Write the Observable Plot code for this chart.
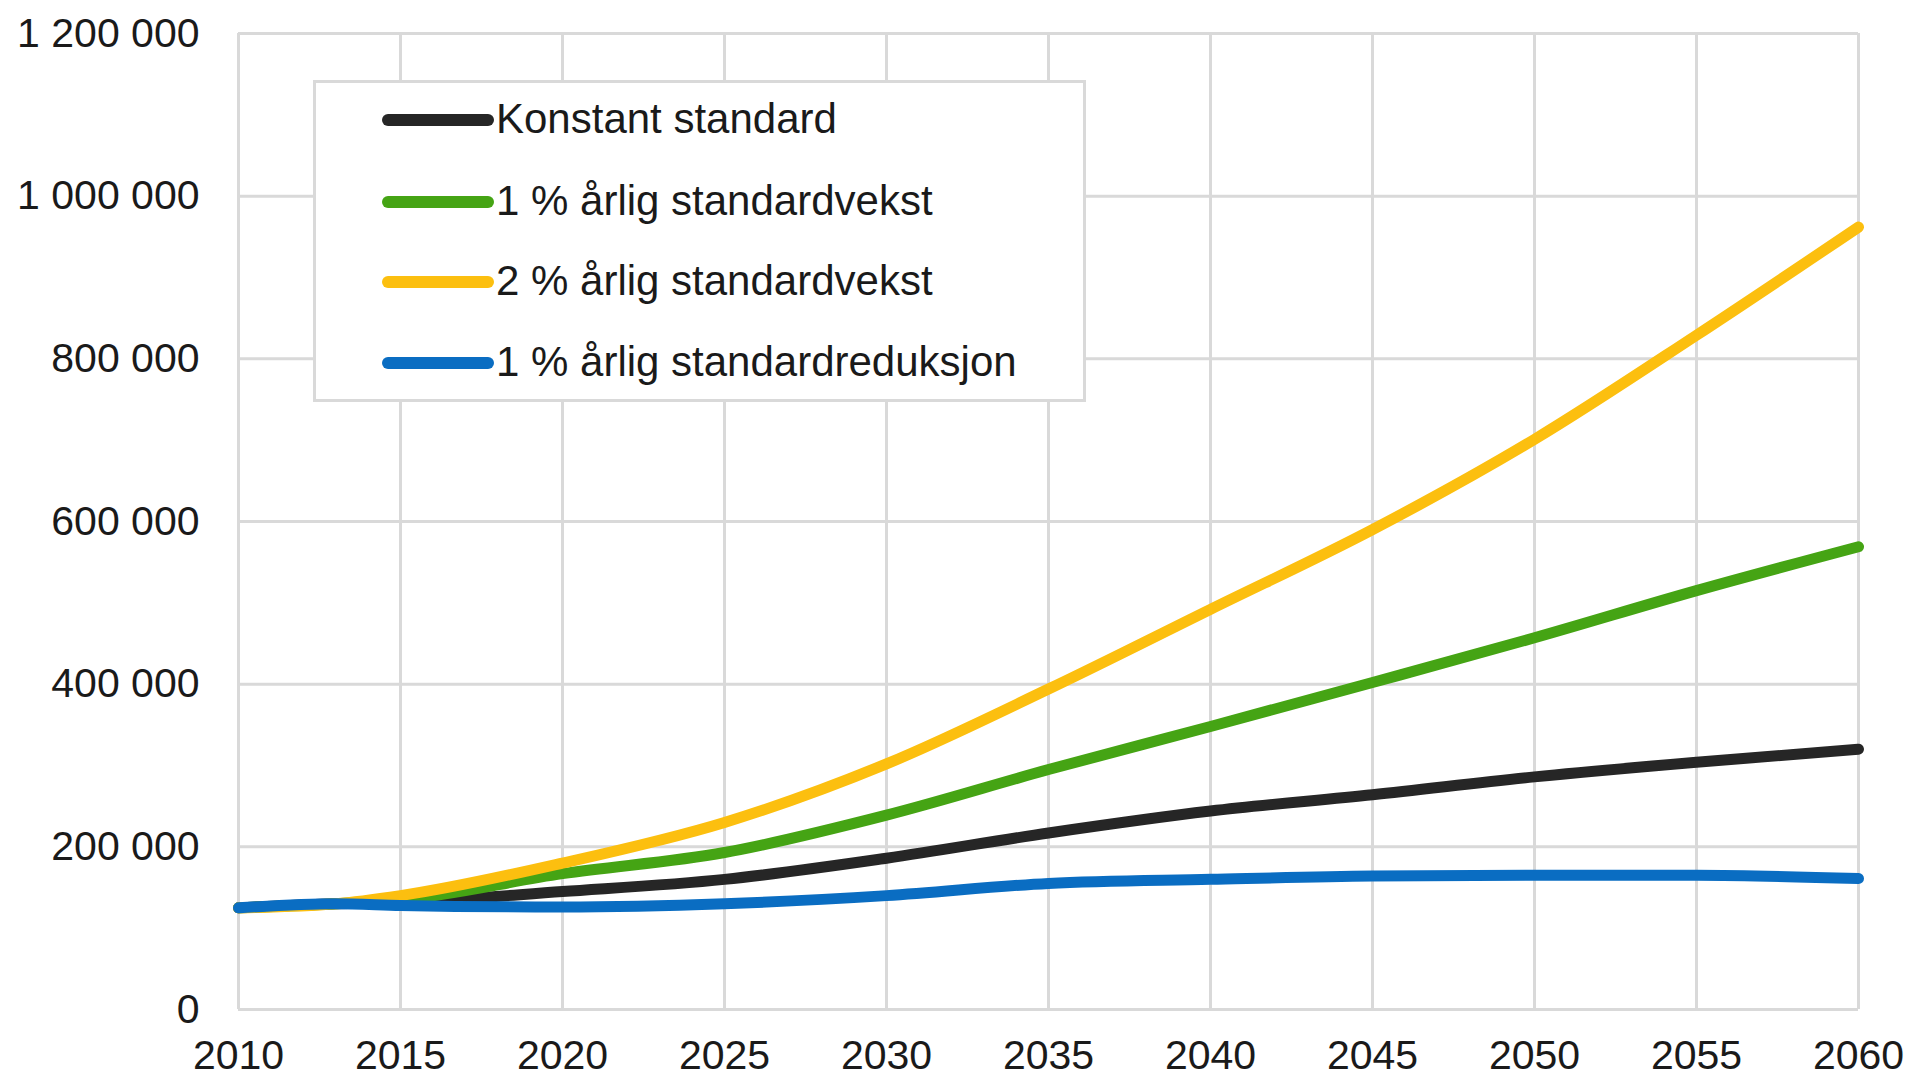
<!DOCTYPE html>
<html>
<head>
<meta charset="utf-8">
<script src="https://cdn.jsdelivr.net/npm/d3@7"></script>
<script src="https://cdn.jsdelivr.net/npm/@observablehq/plot@0.6"></script>
<style>
  html, body { margin: 0; padding: 0; background: #fff; }
  #wrap { position: relative; width: 1915px; height: 1077px; font-family: "Liberation Sans", Arial, sans-serif; }
  #legend { position: absolute; left: 313px; top: 80px; width: 767px; height: 316px; border: 3px solid #d9d9d9; background: #fff; box-sizing: content-box; }
  .row { position: absolute; left: 0; height: 0; }
  .row svg { position: absolute; left: 66px; top: -8px; }
  .row span { position: absolute; left: 180px; top: -25px; font-size: 42px; line-height: 48px; color: #1a1a1a; white-space: nowrap; }
</style>
</head>
<body>
<div id="wrap"></div>
<script>
// ---- data ----
const years = [2010, 2013, 2015, 2020, 2025, 2030, 2035, 2040, 2045, 2050, 2055, 2060];
const konstant   = [125000, 130000, 132000, 145000, 160000, 186000, 217000, 244000, 264000, 286000, 304000, 320000];
const vekst1     = [125000, 130000, 135000, 167000, 193000, 239000, 295000, 348000, 402000, 457000, 515000, 569000];
const vekst2     = [125000, 130000, 140000, 180000, 230000, 302000, 394000, 492000, 590000, 701000, 829000, 962000];
const reduksjon1 = [125000, 130000, 128000, 126000, 130000, 140000, 155000, 160000, 164000, 165000, 165000, 161000];

const seriesNames  = ["Konstant standard", "1 % årlig standardvekst", "2 % årlig standardvekst", "1 % årlig standardreduksjon"];
const seriesValues = [konstant, vekst1, vekst2, reduksjon1];
const seriesColors = ["#262626", "#45a414", "#fcbf0f", "#0a6dc2"];

const xTicks = [2010, 2015, 2020, 2025, 2030, 2035, 2040, 2045, 2050, 2055, 2060];
const yTicks = [0, 200000, 400000, 600000, 800000, 1000000, 1200000];

// ---- build ----
const fmt = d => d3.format(",")(d).replace(/,/g, " ");
const rows = [];
seriesNames.forEach((name, i) => {
  years.forEach((yr, j) => rows.push({series: name, year: yr, value: seriesValues[i][j]}));
});

const lineMarks = seriesNames.map((name, i) =>
  Plot.line(rows.filter(r => r.series === name), {
    x: "year", y: "value", stroke: seriesColors[i], strokeWidth: 11,
    curve: "monotone-x", strokeLinecap: "round", strokeLinejoin: "round"
  })
);

const chart = Plot.plot({
  width: 1915, height: 1077,
  marginLeft: 238, marginRight: 57, marginTop: 33, marginBottom: 68,
  style: { fontFamily: "'Liberation Sans', Arial, sans-serif", fontSize: "41px", color: "#1a1a1a", background: "#fff", overflow: "visible" },
  x: { domain: [2010, 2060], label: null },
  y: { domain: [0, 1200000], label: null },
  marks: [
    Plot.ruleX(xTicks, { stroke: "#d9d9d9", strokeWidth: 3 }),
    Plot.ruleY(yTicks, { stroke: "#d9d9d9", strokeWidth: 3 }),
    Plot.axisX({ ticks: xTicks, tickSize: 0, tickPadding: 30, tickFormat: d => String(d), label: null, fontSize: 41 }),
    Plot.axisY({ ticks: yTicks, tickSize: 0, tickPadding: 39, tickFormat: fmt, label: null, fontSize: 41 }),
    ...lineMarks
  ]
});

const wrap = document.getElementById("wrap");
wrap.appendChild(chart);

// ---- legend overlay ----
const legend = document.createElement("div");
legend.id = "legend";
const rowTops = [37, 119, 199, 280];
seriesNames.forEach((name, i) => {
  const r = document.createElement("div");
  r.className = "row";
  r.style.top = rowTops[i] + "px";
  r.innerHTML = `<svg width="112" height="16"><line x1="6" y1="8" x2="106" y2="8" stroke="${seriesColors[i]}" stroke-width="12" stroke-linecap="round"/></svg><span>${name}</span>`;
  legend.appendChild(r);
});
wrap.appendChild(legend);
</script>
</body>
</html>
